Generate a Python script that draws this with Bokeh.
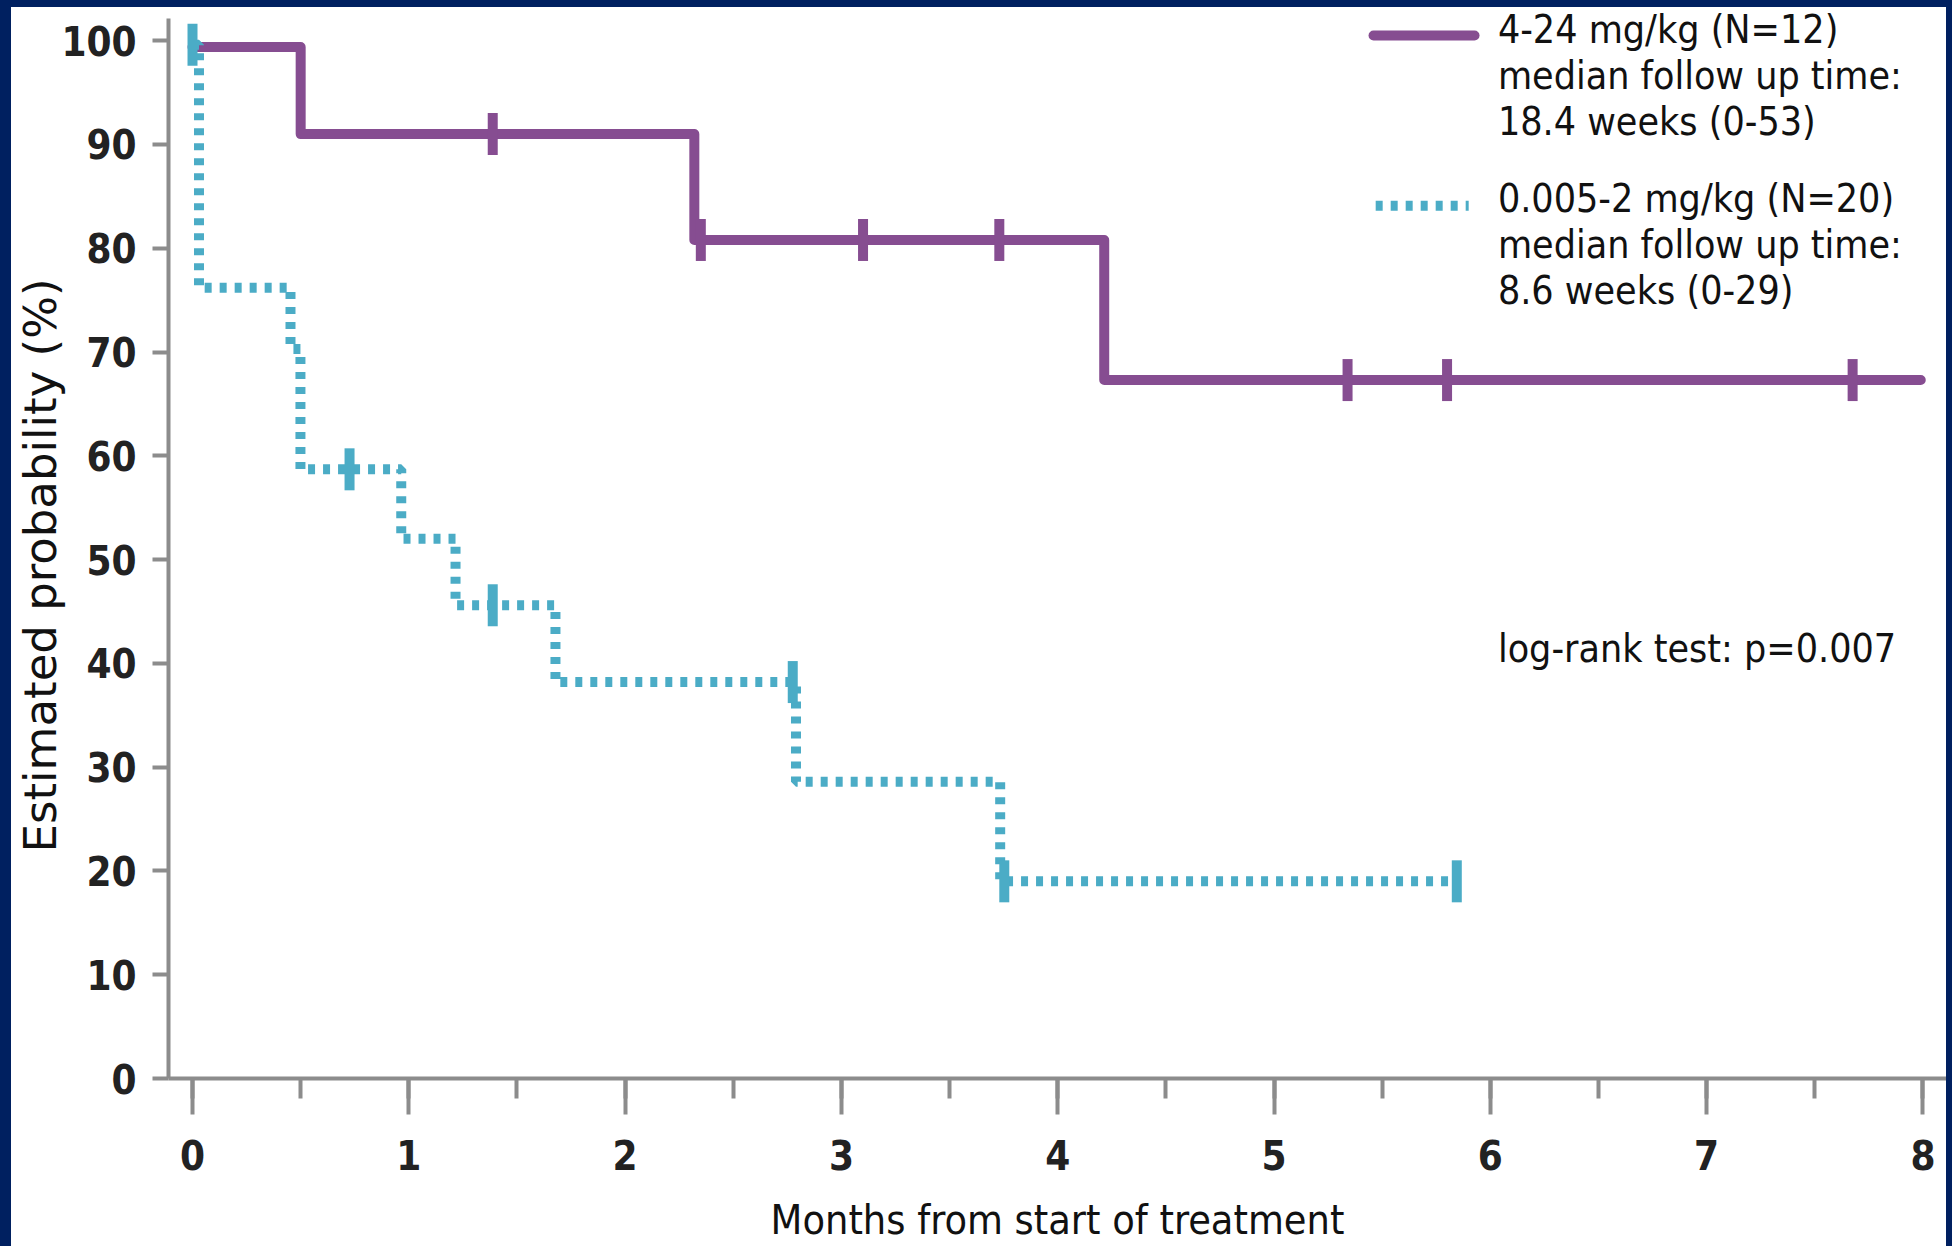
import math
from bokeh.plotting import figure
from bokeh.models import Range1d, Label, SingleIntervalTicker
from bokeh.embed import file_html
from bokeh.resources import INLINE

# ---------------- data ----------------
# 4-24 mg/kg (N=12): step curve
high_times = [0.0, 0.50, 2.32, 4.215, 7.99]
high_surv = [99.4, 91.0, 80.8, 67.3, 67.3]
# censored observations
high_censor_t = [1.388, 2.35, 3.10, 3.73, 5.34, 5.80, 7.675]
high_censor_s = [91.0, 80.8, 80.8, 80.8, 67.3, 67.3, 67.3]

# 0.005-2 mg/kg (N=20): step curve
low_times = [0.0, 0.03, 0.453, 0.499, 0.965, 1.216, 1.678, 2.79, 3.734, 5.845]
low_surv = [99.6, 76.2, 70.3, 58.7, 52.0, 45.6, 38.2, 28.6, 19.0, 19.0]
low_censor_t = [0.0, 0.726, 1.388, 2.775, 3.753, 5.845]
low_censor_s = [99.6, 58.7, 45.6, 38.2, 19.0, 19.0]

x_ticks_interval = 1
y_ticks_interval = 10
y_axis_bounds = (0, 102.1)

legend_high = ["4-24 mg/kg (N=12)", "median follow up time:", "18.4 weeks (0-53)"]
legend_low = ["0.005-2 mg/kg (N=20)", "median follow up time:", "8.6 weeks (0-29)"]
logrank_text = "log-rank test: p=0.007"

x_label = "Months from start of treatment"
y_label = "Estimated probability (%)"

# ---------------- styles ----------------
PURPLE = "#864D91"
CYAN = "#4BACC6"
AXIS = "#8C8C8C"
NAVY = "#002060"
FONT = "DejaVu Sans Condensed"
EM_SPACE = "\u2003"  # trailing em space: nudges the centred y title downwards

p = figure(
    width=1935, height=1239,
    x_range=Range1d(-0.111, 8.109), y_range=Range1d(0, 103.2),
    output_backend="svg", toolbar_location=None,
    min_border_left=157, min_border_right=0, min_border_top=0, min_border_bottom=167,
)
p.margin = (7, 6, 0, 11)
p.styles = {"background-color": "white"}
p.outline_line_color = None
p.grid.visible = False
p.background_fill_color = "white"
p.border_fill_color = "white"

# axes
p.xaxis.ticker = SingleIntervalTicker(interval=x_ticks_interval, num_minor_ticks=2)
p.yaxis.ticker = SingleIntervalTicker(interval=y_ticks_interval, num_minor_ticks=0)
p.yaxis.bounds = y_axis_bounds
for ax in (p.xaxis, p.yaxis):
    ax.axis_line_color = AXIS
    ax.axis_line_width = 4
    ax.major_tick_line_color = AXIS
    ax.major_tick_line_width = 4
    ax.minor_tick_line_color = AXIS
    ax.minor_tick_line_width = 4
    ax.major_tick_in = 0
    ax.minor_tick_in = 0
    ax.major_label_text_font = FONT
    ax.major_label_text_font_style = "bold"
    ax.major_label_text_font_size = "40px"
    ax.major_label_text_color = "#222222"
    ax.axis_label_text_font_style = "normal"
    ax.axis_label_text_color = "#111111"

p.xaxis.major_tick_out = 36
p.xaxis.minor_tick_out = 20
p.xaxis.major_label_standoff = 25
p.xaxis.axis_label = x_label
p.xaxis.axis_label_text_font = FONT
p.xaxis.axis_label_text_font_size = "41px"
p.xaxis.axis_label_standoff = 23

p.yaxis.major_tick_out = 16
p.yaxis.minor_tick_out = 0
p.yaxis.minor_tick_line_color = None
p.yaxis.major_label_standoff = 16
p.yaxis.axis_label = y_label + EM_SPACE
p.yaxis.axis_label_text_font = "DejaVu Sans"
p.yaxis.axis_label_text_font_size = "45px"
p.yaxis.axis_label_standoff = -9

# curves
p.step(x=high_times, y=high_surv, mode="after", line_color=PURPLE, line_width=10,
       line_join="round", line_cap="round")
p.step(x=low_times, y=low_surv, mode="after", line_color=CYAN, line_width=10,
       line_dash="7 8", line_cap="butt")

# censor marks
p.scatter(x=high_censor_t, y=high_censor_s, marker="dash", angle=math.pi / 2, size=42,
          line_color=PURPLE, line_width=10)
p.scatter(x=low_censor_t, y=low_censor_s, marker="dash", angle=math.pi / 2, size=42,
          line_color=CYAN, line_width=10)

# legend (custom)
LEG_TX = 6.035
LINE_STEP = 4.45
p.line(x=[5.46, 5.927], y=[100.5, 100.5], line_color=PURPLE, line_width=10, line_cap="round")
p.line(x=[5.47, 5.90], y=[84.1, 84.1], line_color=CYAN, line_width=10,
       line_dash="7 8", line_cap="butt")


def add_lines(lines, y0):
    for i, t in enumerate(lines):
        p.add_layout(Label(x=LEG_TX, y=y0 - i * LINE_STEP, text=t, text_font=FONT,
                           text_font_size="39px", text_baseline="middle", text_align="left",
                           text_color="#111111"))


add_lines(legend_high, 101.1)
add_lines(legend_low, 84.8)
add_lines([logrank_text], 41.4)

html = file_html(p, INLINE)
html = html.replace("</head>", "<style>html, body { background-color: %s; }</style></head>" % NAVY, 1)
open("out.html", "w").write(html)
